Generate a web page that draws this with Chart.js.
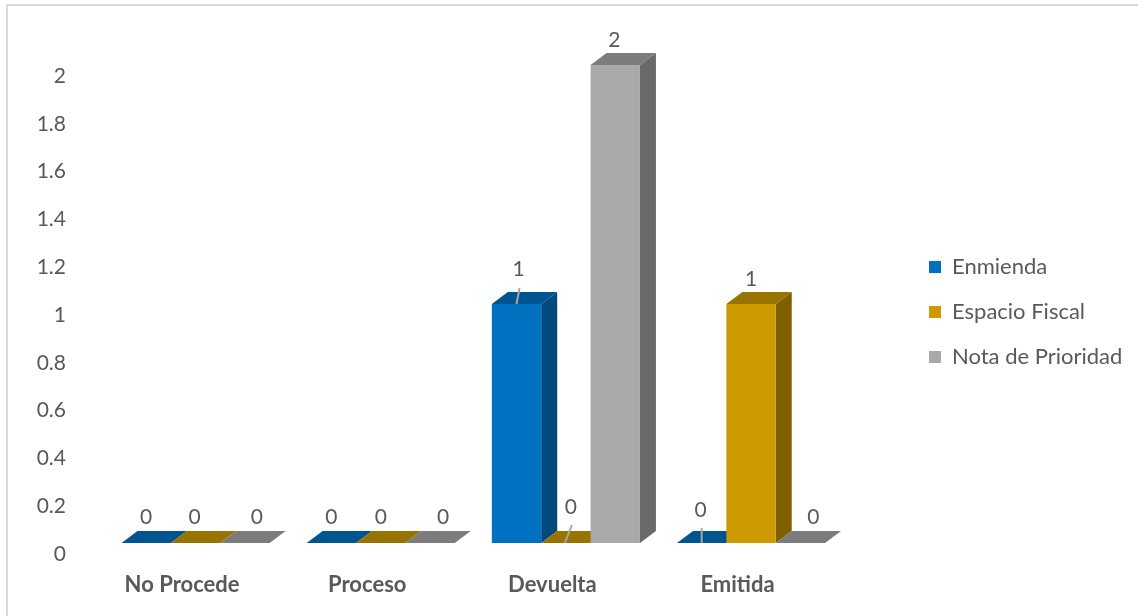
<!DOCTYPE html>
<html>
<head>
<meta charset="utf-8">
<script src="https://cdn.jsdelivr.net/npm/chart.js@4"></script>
<style>
  html, body { margin: 0; padding: 0; background: #fff; overflow: hidden; }
  #wrap { position: absolute; left: 0; top: 0; width: 1138px; height: 616px; overflow: hidden; }
  #frame { position: absolute; left: 6px; top: 4px; width: 1140px; height: 620px; border: 2.5px solid #d9d9d9; box-sizing: border-box; }
  canvas { position: absolute; left: 0; top: 0; }
</style>
</head>
<body>
<div id="wrap">
  <div id="frame"></div>
  <canvas id="chart" width="1138" height="616"></canvas>
</div>
<script>
const categories = ["No Procede", "Proceso", "Devuelta", "Emitida"];
const enmienda = [0, 0, 1, 0];
const espacioFiscal = [0, 0, 0, 1];
const notaPrioridad = [0, 0, 2, 0];
const yTicks = [0, 0.2, 0.4, 0.6, 0.8, 1, 1.2, 1.4, 1.6, 1.8, 2];

const textColor = "#595959";
const depthX = 16;
const depthY = 12;

// front, top, side
const shades = [
  ["#0070c0", "#00548f", "#004a80"],
  ["#cc9900", "#997300", "#7f6000"],
  ["#a9a9a9", "#7c7c7c", "#6a6a6a"],
];

// where excel left the data labels, relative to the bar [dataset][category]
const labelShift = [
  [[0, -26], [0, -26], [2, -35], [-1, -33]],
  [[-1, -26], [0, -26], [5, -36], [0, -25]],
  [[12, -26], [13, -26], [-1, -25], [13, -26]],
];
// leader lines: dataset, category, from and to relative to the bar centre / top
const leaders = [
  { ds: 0, cat: 2, from: [0, 0], to: [3, -16] },
  { ds: 1, cat: 2, from: [-1, 0], to: [6, -18] },
  { ds: 0, cat: 3, from: [0, 0], to: [0, -15] },
];

const bars3d = {
  id: "bars3d",
  afterLayout(chart) {
    // excel keeps the legend away from the plot, centred on the whole chart
    const lg = chart.legend;
    const w = lg.right - lg.left;
    const h = lg.bottom - lg.top;
    lg.left = 906;
    lg.right = 906 + w;
    lg.top = 312 - h / 2;
    lg.bottom = 312 + h / 2;
  },
  beforeDatasetsDraw(chart) {
    const ctx = chart.ctx;
    categories.forEach((c, i) => {
      chart.data.datasets.forEach((d, k) => {
        const b = chart.getDatasetMeta(k).data[i];
        const l = b.x - b.width / 2;
        const r = b.x + b.width / 2;
        ctx.fillStyle = shades[k][1];
        ctx.beginPath();
        ctx.moveTo(l, b.y);
        ctx.lineTo(r, b.y);
        ctx.lineTo(r + depthX, b.y - depthY);
        ctx.lineTo(l + depthX, b.y - depthY);
        ctx.closePath();
        ctx.fill();
        if (b.base > b.y) {
          ctx.fillStyle = shades[k][2];
          ctx.beginPath();
          ctx.moveTo(r, b.y);
          ctx.lineTo(r + depthX, b.y - depthY);
          ctx.lineTo(r + depthX, b.base - depthY);
          ctx.lineTo(r, b.base);
          ctx.closePath();
          ctx.fill();
        }
      });
    });
  },
  afterDatasetsDraw(chart) {
    const ctx = chart.ctx;
    ctx.save();
    ctx.strokeStyle = "#a6a6a6";
    ctx.lineWidth = 2;
    leaders.forEach((m) => {
      const b = chart.getDatasetMeta(m.ds).data[m.cat];
      ctx.beginPath();
      ctx.moveTo(b.x + m.from[0], b.y + m.from[1]);
      ctx.lineTo(b.x + m.to[0], b.y + m.to[1]);
      ctx.stroke();
    });
    ctx.fillStyle = textColor;
    ctx.font = "21px Lato";
    ctx.textAlign = "center";
    ctx.textBaseline = "middle";
    chart.data.datasets.forEach((d, k) => {
      d.data.forEach((v, i) => {
        const b = chart.getDatasetMeta(k).data[i];
        ctx.fillText(String(v), b.x + labelShift[k][i][0], b.y + labelShift[k][i][1]);
      });
    });
    ctx.restore();
  },
};

new Chart(document.getElementById("chart"), {
  type: "bar",
  data: {
    labels: categories,
    datasets: [
      { label: "Enmienda", data: enmienda, backgroundColor: shades[0][0] },
      { label: "Espacio Fiscal", data: espacioFiscal, backgroundColor: shades[1][0] },
      { label: "Nota de Prioridad", data: notaPrioridad, backgroundColor: shades[2][0] },
    ],
  },
  plugins: [bars3d],
  options: {
    responsive: false,
    animation: false,
    layout: { padding: { left: 0, top: 65, right: 68, bottom: 20 } },
    datasets: { bar: { barPercentage: 1, categoryPercentage: 0.8 } },
    plugins: {
      tooltip: { enabled: false },
      legend: {
        position: "right",
        labels: {
          color: textColor,
          boxWidth: 12,
          boxHeight: 12,
          padding: 23,
          font: { family: "Lato", size: 22 },
        },
      },
    },
    scales: {
      x: {
        afterFit(scale) {
          scale.height = 53;
        },
        grid: { display: false, drawTicks: false },
        border: { display: false },
        ticks: {
          color: textColor,
          padding: 29,
          labelOffset: -13.5,
          maxRotation: 0,
          font: { family: "Lato", size: 22, weight: "bold" },
        },
      },
      y: {
        min: 0,
        max: 2,
        afterBuildTicks(scale) {
          scale.ticks = yTicks.map((v) => ({ value: v }));
        },
        afterFit(scale) {
          scale.width = 103;
        },
        grid: { display: false, drawTicks: false },
        border: { display: false },
        ticks: {
          color: textColor,
          padding: 37,
          labelOffset: 11,
          callback: (v) => String(v),
          font: { family: "Lato", size: 21 },
        },
      },
    },
  },
});
</script>
</body>
</html>
